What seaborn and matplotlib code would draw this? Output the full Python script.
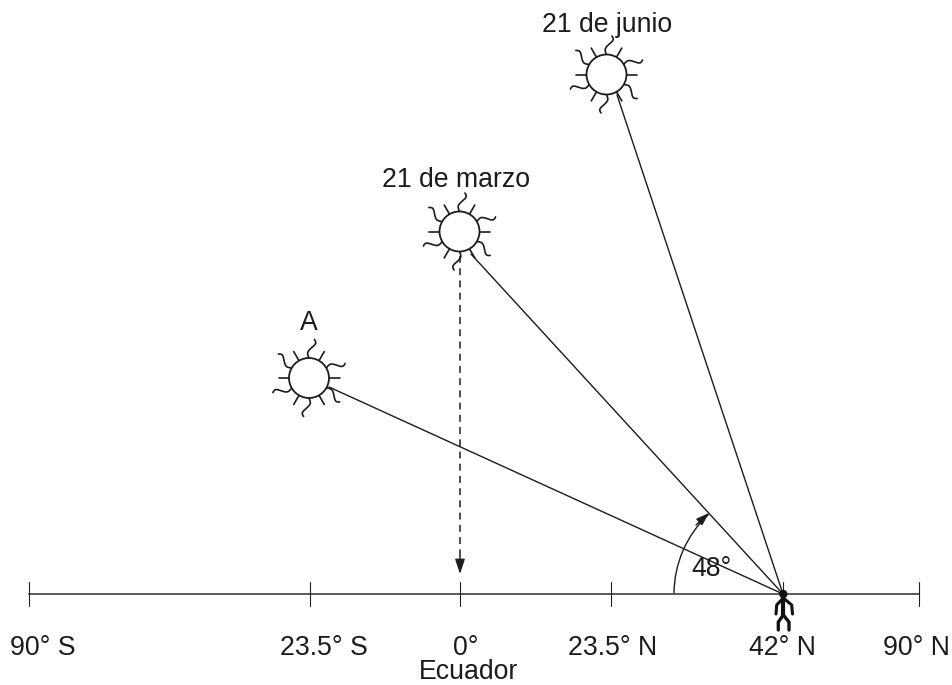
import numpy as np
import matplotlib
matplotlib.use("Agg")
import matplotlib.pyplot as plt
import seaborn as sns
from matplotlib.patches import Circle, Arc

sns.set_theme(style="white")
plt.rcParams['font.family'] = ['Liberation Sans', 'DejaVu Sans']

INK = "#1c1c1c"
AXIS_GREY = "#5a5a5a"
FS = 19.2

axis_x = [29, 919]
axis_y = 594
tick_x = [28.5, 310, 460, 611, 783, 919]
tick_labels = ["90° S", "23.5° S", "0°", "23.5° N", "42° N", "90° N"]
tick_label_x = [43, 323.5, 465.5, 613, 782, 916.5]
tick_label_baseline = 655

sun_names = ["21 de junio", "21 de marzo", "A"]
sun_x = [606.5, 459.5, 309]
sun_y = [74.5, 231.5, 378]
sun_label_x = [607, 456.5, 309]
sun_label_baseline = [32, 187, 330]
ray_end_x = [617, 471, 329]
ray_end_y = [95, 254, 387]

observer = (783, 594)
angle_label = "48°"
equator_label = "Ecuador"

wave_t = [20, 22.5, 25, 27, 29, 31, 33, 35, 37, 38.5]
wave_off = [0, -1, -1.4, -0.6, 1.2, 3.4, 5.6, 6.8, 6.4, 5.4]
straight_t = [20, 30.5]
straight_off = [0, 0]
ray_angles = [90, 60, 30, 0, -30, -60, -90, -120, -150, 180, 150, 120]


def line(ax, xs, ys, color=INK, lw=1.0, **kw):
    sns.lineplot(x=list(xs), y=list(ys), sort=False, estimator=None,
                 color=color, linewidth=lw, ax=ax, legend=False, **kw)


def label(ax, x, y, s):
    ax.text(x, y, s, ha="center", va="baseline", fontsize=FS, color=INK)


fig = plt.figure(figsize=(9.52, 6.85), dpi=100, facecolor="white")
ax = fig.add_axes([0, 0, 1, 1])

# Baseline with ticks
line(ax, axis_x, [axis_y, axis_y], color=AXIS_GREY, lw=1.4)
for x in tick_x:
    line(ax, [x, x], [axis_y - 12, axis_y + 12], color="#222222", lw=0.8)
for x, s in zip(tick_label_x, tick_labels):
    label(ax, x, tick_label_baseline, s)
label(ax, 469, 679, equator_label)

# Suns
for cx, cy, name, lx, ly in zip(sun_x, sun_y, sun_names, sun_label_x, sun_label_baseline):
    ax.add_patch(Circle((cx, cy), 20, fc="white", ec=INK, lw=1.3, zorder=3))
    for i, ang in enumerate(ray_angles):
        th = np.deg2rad(ang)
        t = np.array(wave_t if i % 2 == 0 else straight_t, float)
        o = np.array(wave_off if i % 2 == 0 else straight_off, float)
        rx = cx + t * np.cos(th) + o * np.sin(th)
        ry = cy - t * np.sin(th) + o * np.cos(th)
        line(ax, rx, ry, lw=1.2)
    label(ax, lx, ly, name)

# Sight lines
for ex, ey in zip(ray_end_x, ray_end_y):
    line(ax, [ex, observer[0]], [ey, observer[1]], lw=1.0)

# Dashed vertical arrow from the March sun to the equator
line(ax, [460, 460], [256, 560], lw=1.1, linestyle=(0, (4.5, 3.5)))
ax.annotate("", xy=(460, 574), xytext=(460, 556),
            arrowprops=dict(arrowstyle="-|>,head_length=0.75,head_width=0.25",
                            color=INK, lw=1.0, shrinkA=0, shrinkB=0))

# Angle arc, 48 degrees at the observer
ax.add_patch(Arc(observer, 218, 218, angle=0, theta1=180, theta2=180 + 47.0,
                 ec=INK, lw=1.0))
ax.annotate("", xy=(709, 513), xytext=(696, 525),
            arrowprops=dict(arrowstyle="-|>,head_length=0.65,head_width=0.22",
                            color=INK, lw=1.0, shrinkA=0, shrinkB=0))
label(ax, 711, 576.5, angle_label)

# Observer figure
ax.add_patch(Circle((783.3, 594), 4.2, fc="#111111", ec="none", zorder=5))
line(ax, [783.3, 783.3], [594, 615], color="#111111", lw=3.0)
line(ax, [783.3, 776.7, 776], [598, 605, 614], color="#111111", lw=2.2)
line(ax, [783.3, 791.7, 792.5], [598, 605, 614], color="#111111", lw=2.2)
line(ax, [783.3, 778.3, 778.3], [615, 622, 630], color="#111111", lw=2.4)
line(ax, [783.3, 789, 789], [615, 622, 630], color="#111111", lw=2.4)

ax.set_xlim(0, 952)
ax.set_ylim(685, 0)
ax.axis("off")
fig.savefig("out.png", dpi=100, facecolor="white")
